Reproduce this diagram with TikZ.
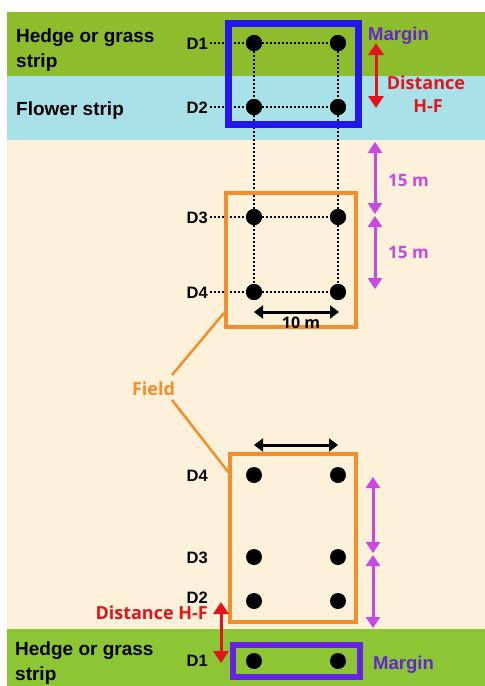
\documentclass[tikz,border=0pt]{standalone}
\usepackage{fontspec}
\setmainfont{Open Sans}
\newfontfamily\labfont{Liberation Sans}
\usetikzlibrary{arrows.meta}
\definecolor{greenA}{RGB}{141,189,44}
\definecolor{greenB}{RGB}{141,198,52}
\definecolor{cyanS}{RGB}{168,226,232}
\definecolor{creamF}{RGB}{253,241,217}
\definecolor{orangeF}{RGB}{242,142,44}
\definecolor{blueM}{RGB}{36,24,232}
\definecolor{purpM}{RGB}{100,36,224}
\definecolor{marginT}{RGB}{98,40,204}
\definecolor{redD}{RGB}{228,20,28}
\definecolor{magA}{RGB}{200,72,224}
\begin{document}
\begin{tikzpicture}[x=1pt,y=-1pt,
  dot/.style={circle,fill=black,inner sep=0pt,minimum size=16pt},
  dlab/.style={font=\labfont\bfseries\fontsize{16.5}{16.5}\selectfont,anchor=base east,inner sep=0pt},
  stripl/.style={font=\labfont\bfseries\fontsize{19}{19}\selectfont,anchor=base west,inner sep=0pt},
  margl/.style={font=\labfont\bfseries\fontsize{18.5}{18.5}\selectfont,anchor=base west,inner sep=0pt,text=marginT},
  redl/.style={font=\bfseries\fontsize{18}{18}\selectfont,anchor=base,inner sep=0pt,text=redD},
  magl/.style={font=\bfseries\fontsize{17}{17}\selectfont,anchor=base west,inner sep=0pt,text=magA},
  dotline/.style={line width=2pt,dash pattern=on 2pt off 2pt},
  fieldbox/.style={draw=orangeF,line width=4pt},
  redarrow/.style={redD,line width=3pt,{Triangle[width=15pt,length=12pt]}-{Triangle[width=15pt,length=12pt]}},
  magarrow/.style={magA,line width=3pt,{Triangle[width=14pt,length=11pt]}-{Triangle[width=14pt,length=11pt]}},
  blkarrow/.style={black,line width=3pt,{Triangle[width=13pt,length=9pt]}-{Triangle[width=13pt,length=9pt]}},
  fieldline/.style={orangeF,line width=2.5pt}
]
\useasboundingbox (0,0) rectangle (485,686);
% backgrounds
\fill[white] (0,0) rectangle (485,686);
\fill[greenA] (7,12) rectangle (485,76);
\fill[cyanS] (7,76) rectangle (485,140);
\fill[creamF] (7,140) rectangle (485,629);
\fill[greenB] (7,629) rectangle (485,686);

% strip labels
\node[stripl] (hedgeT1) at (16,42) {Hedge or grass};
\node[stripl] (hedgeT2) at (16,67) {strip};
\node[stripl] (flower) at (16,115) {Flower strip};
\node[stripl] (hedgeB1) at (15,655) {Hedge or grass};
\node[stripl] (hedgeB2) at (15,680) {strip};

% top grid dots
\node[dot] (t1a) at (254,43) {};
\node[dot] (t1b) at (338,43) {};
\node[dot] (t2a) at (254,107) {};
\node[dot] (t2b) at (338,107) {};
\node[dot] (t3a) at (254,217) {};
\node[dot] (t3b) at (338,217) {};
\node[dot] (t4a) at (254,292) {};
\node[dot] (t4b) at (338,292) {};

\node[dlab] (lt1) at (208,49) {D1};
\node[dlab] (lt2) at (208,113) {D2};
\node[dlab] (lt3) at (208,223) {D3};
\node[dlab] (lt4) at (208,298) {D4};

% dotted lines
\draw[dotline] (lt1.base east) ++(2,-6) -- (t1a);
\draw[dotline] (t1a) -- (t1b);
\draw[dotline] (lt2.base east) ++(2,-6) -- (t2a);
\draw[dotline] (t2a) -- (t2b);
\draw[dotline] (lt3.base east) ++(2,-6) -- (t3a);
\draw[dotline] (t3a) -- (t3b);
\draw[dotline] (lt4.base east) ++(2,-6) -- (t4a);
\draw[dotline] (t4a) -- (t4b);
\draw[dotline] (t1a) -- (t2a) -- (t3a) -- (t4a);
\draw[dotline] (t1b) -- (t2b) -- (t3b) -- (t4b);

% redraw dots on top
\foreach \n in {t1a,t1b,t2a,t2b,t3a,t3b,t4a,t4b} \fill (\n) circle (8);

% top margin box
\draw[blueM,line width=7pt] (228.5,23.5) rectangle (358.5,124.5);
\node[margl] (marginT) at (368,40) {Margin};
\coordinate (rt1) at (376,43);
\coordinate (rt2) at (376,108);
\draw[redarrow] (rt1) -- (rt2);
\node[redl] (distT1) at (426,89) {Distance};
\node[redl] (distT2) at (428,112) {H-F};

% top field box
\draw[fieldbox] (226,193) rectangle (356,327);
\coordinate (m1) at (375,142);
\coordinate (m2) at (375,214);
\coordinate (m3) at (375,216);
\coordinate (m4) at (375,289);
\draw[magarrow] (m1) -- (m2);
\draw[magarrow] (m3) -- (m4);
\node[magl] (m15a) at (388,186) {15 m};
\node[magl] (m15b) at (388,258) {15 m};
\coordinate (k1) at (254,312);
\coordinate (k2) at (339,312);
\draw[blkarrow] (k1) -- (k2);
\node[font=\bfseries\fontsize{16}{16}\selectfont,anchor=base,inner sep=0pt] (tenm) at (301,328) {10 m};

% Field label
\node[font=\bfseries\fontsize{18}{18}\selectfont,text=orangeF,anchor=base,inner sep=0pt] (field) at (153.5,395) {Field};
\coordinate (fA) at (224,313);
\coordinate (fB) at (229,473);
\draw[fieldline] (172,375) -- (fA);
\draw[fieldline] (172,400) -- (fB);

% bottom field box
\draw[fieldbox] (230,454) rectangle (356,622);
\coordinate (k3) at (254,445);
\coordinate (k4) at (338,445);
\draw[blkarrow] (k3) -- (k4);

\node[dot] (b4a) at (254,475) {};
\node[dot] (b4b) at (338,475) {};
\node[dot] (b3a) at (254,557) {};
\node[dot] (b3b) at (338,557) {};
\node[dot] (b2a) at (254,601) {};
\node[dot] (b2b) at (338,601) {};
\node[dot] (b1a) at (254,661) {};
\node[dot] (b1b) at (338,661) {};

\node[dlab] (lb4) at (208,481) {D4};
\node[dlab] (lb3) at (208,563) {D3};
\node[dlab] (lb2) at (208,603) {D2};
\node[dlab] (lb1) at (208,666) {D1};

\coordinate (m5) at (373,477);
\coordinate (m6) at (373,553);
\coordinate (m7) at (373,555);
\coordinate (m8) at (373,628);
\draw[magarrow] (m5) -- (m6);
\draw[magarrow] (m7) -- (m8);

\node[redl,anchor=base east] (distB) at (208,619) {Distance H-F};
\coordinate (rb1) at (221,602);
\coordinate (rb2) at (221,663);
\draw[redarrow] (rb1) -- (rb2);

% bottom margin box
\draw[purpM,line width=6pt] (233,645) rectangle (360,677);
\node[margl] (marginB) at (373,669) {Margin};
\end{tikzpicture}
\end{document}
